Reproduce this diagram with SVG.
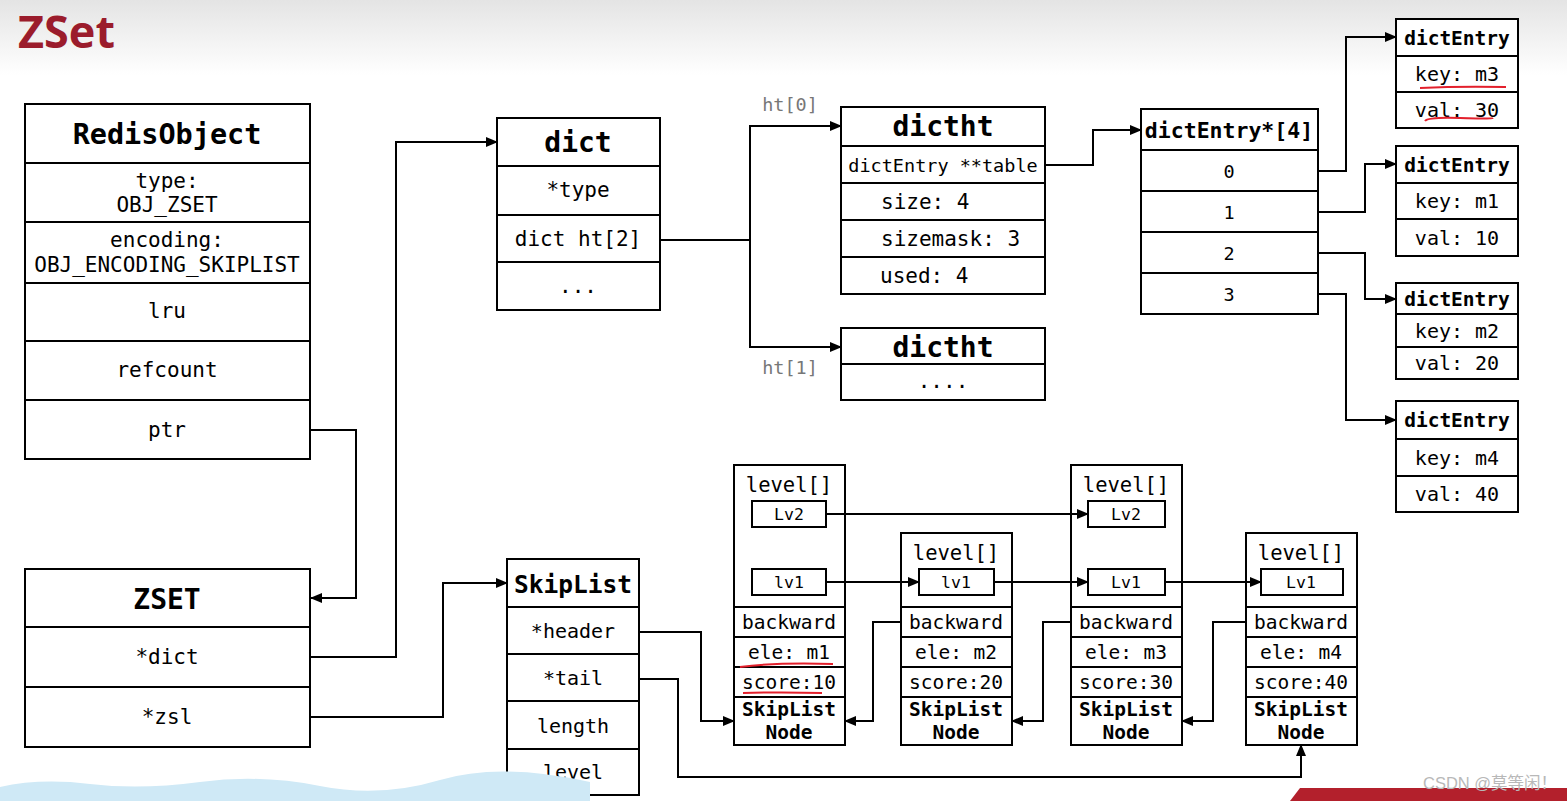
<svg xmlns="http://www.w3.org/2000/svg" width="1567" height="801" viewBox="0 0 1567 801">
<defs>
<linearGradient id="topbg" x1="0" y1="0" x2="0" y2="1">
<stop offset="0" stop-color="#e4e4e4"/>
<stop offset="1" stop-color="#ffffff"/>
</linearGradient>
<marker id="arr" markerUnits="userSpaceOnUse" markerWidth="12" markerHeight="10" refX="11" refY="5" orient="auto">
<path d="M0,0 L12,5 L0,10 z" fill="#000"/>
</marker>
</defs>
<style>
.box{fill:#fff;stroke:#000;stroke-width:2}
.ln{fill:none;stroke:#000;stroke-width:2}
.con{fill:none;stroke:#000;stroke-width:2;marker-end:url(#arr)}
.t{font-family:"DejaVu Sans Mono","Liberation Mono",monospace;fill:#000;text-anchor:middle;dominant-baseline:central}
.b{font-weight:bold}
.red{fill:none;stroke:#e3202c;stroke-width:2}
.gray{fill:#777}
</style>
<rect x="0" y="0" width="1567" height="801" fill="#fff"/>
<rect x="0" y="0" width="1567" height="75" fill="url(#topbg)"/>
<text x="18" y="48" font-family="'Open Sans','Liberation Sans',sans-serif" font-weight="bold" font-size="45" fill="#9b1c2c">ZSet</text>

<g id="redisobject">
<rect class="box" x="25" y="104" width="285" height="355"/>
<path class="ln" d="M25,163 H310 M25,222 H310 M25,283 H310 M25,341 H310 M25,400 H310"/>
<text class="t b" x="167" y="134" font-size="28.5">RedisObject</text>
<text class="t" x="167" y="181" font-size="21">type:</text>
<text class="t" x="167" y="205" font-size="21">OBJ_ZSET</text>
<text class="t" x="167" y="240" font-size="21">encoding:</text>
<text class="t" x="167" y="265" font-size="21">OBJ_ENCODING_SKIPLIST</text>
<text class="t" x="167" y="311" font-size="21">lru</text>
<text class="t" x="167" y="370" font-size="21">refcount</text>
<text class="t" x="167" y="430" font-size="21">ptr</text>
</g>

<g id="zset">
<rect class="box" x="25" y="569" width="285" height="178"/>
<path class="ln" d="M25,627 H310 M25,687 H310"/>
<text class="t b" x="167" y="599" font-size="28">ZSET</text>
<text class="t" x="167" y="657" font-size="21">*dict</text>
<text class="t" x="167" y="717" font-size="21">*zsl</text>
</g>

<g id="dict">
<rect class="box" x="497" y="118" width="163" height="192"/>
<path class="ln" d="M497,166 H660 M497,215 H660 M497,262 H660"/>
<text class="t b" x="578" y="142" font-size="28">dict</text>
<text class="t" x="578" y="190" font-size="21">*type</text>
<text class="t" x="578" y="239" font-size="21">dict ht[2]</text>
<text class="t" x="578" y="286" font-size="21">...</text>
</g>

<g id="dictht0">
<rect class="box" x="841" y="107" width="204" height="187"/>
<path class="ln" d="M841,146 H1045 M841,183 H1045 M841,220 H1045 M841,257 H1045"/>
<text class="t b" x="943" y="126" font-size="28">dictht</text>
<text class="t" x="943" y="165" font-size="18.5">dictEntry **table</text>
<text class="t" x="881" y="202" font-size="21" style="text-anchor:start">size: 4</text>
<text class="t" x="881" y="239" font-size="21" style="text-anchor:start">sizemask: 3</text>
<text class="t" x="880" y="276" font-size="21" style="text-anchor:start">used: 4</text>
</g>

<g id="dictht1">
<rect class="box" x="841" y="328" width="204" height="72"/>
<path class="ln" d="M841,364 H1045"/>
<text class="t b" x="943" y="347" font-size="28">dictht</text>
<text class="t" x="943" y="381" font-size="21">....</text>
</g>

<text class="t gray" x="790" y="104" font-size="18.5">ht[0]</text>
<text class="t gray" x="790" y="367" font-size="18.5">ht[1]</text>

<g id="dictentry-array">
<rect class="box" x="1141" y="109" width="177" height="205"/>
<path class="ln" d="M1141,150 H1318 M1141,191 H1318 M1141,232 H1318 M1141,273 H1318"/>
<text class="t b" x="1229" y="130" font-size="21.5">dictEntry*[4]</text>
<text class="t" x="1229" y="171" font-size="18.5">0</text>
<text class="t" x="1229" y="212" font-size="18.5">1</text>
<text class="t" x="1229" y="253" font-size="18.5">2</text>
<text class="t" x="1229" y="294" font-size="18.5">3</text>
</g>

<g id="entry-m3">
<rect class="box" x="1396" y="19" width="122" height="109"/>
<path class="ln" d="M1396,56 H1518 M1396,92 H1518"/>
<text class="t b" x="1457" y="38" font-size="19.5">dictEntry</text>
<text class="t" x="1457" y="74" font-size="20">key: m3</text>
<text class="t" x="1457" y="110" font-size="20">val: 30</text>
</g>
<g id="entry-m1">
<rect class="box" x="1396" y="146" width="122" height="110"/>
<path class="ln" d="M1396,183 H1518 M1396,219 H1518"/>
<text class="t b" x="1457" y="165" font-size="19.5">dictEntry</text>
<text class="t" x="1457" y="201" font-size="20">key: m1</text>
<text class="t" x="1457" y="238" font-size="20">val: 10</text>
</g>
<g id="entry-m2">
<rect class="box" x="1396" y="283" width="122" height="96"/>
<path class="ln" d="M1396,314 H1518 M1396,347 H1518"/>
<text class="t b" x="1457" y="299" font-size="19.5">dictEntry</text>
<text class="t" x="1457" y="331" font-size="20">key: m2</text>
<text class="t" x="1457" y="363" font-size="20">val: 20</text>
</g>
<g id="entry-m4">
<rect class="box" x="1396" y="401" width="122" height="111"/>
<path class="ln" d="M1396,439 H1518 M1396,476 H1518"/>
<text class="t b" x="1457" y="420" font-size="19.5">dictEntry</text>
<text class="t" x="1457" y="458" font-size="20">key: m4</text>
<text class="t" x="1457" y="494" font-size="20">val: 40</text>
</g>

<g id="skiplist">
<rect class="box" x="507" y="559" width="132" height="236"/>
<path class="ln" d="M507,607 H639 M507,654 H639 M507,701 H639 M507,749 H639"/>
<text class="t b" x="573" y="584" font-size="24.5">SkipList</text>
<text class="t" x="573" y="631" font-size="20">*header</text>
<text class="t" x="573" y="678" font-size="20">*tail</text>
<text class="t" x="573" y="726" font-size="20">length</text>
<text class="t" x="573" y="772" font-size="20">level</text>
</g>

<g id="node1">
<rect class="box" x="734" y="465" width="111" height="280"/>
<path class="ln" d="M734,607 H845 M734,637 H845 M734,667 H845 M734,697 H845"/>
<text class="t" x="789" y="485" font-size="20.5">level[]</text>
<rect class="box" x="752" y="501" width="74" height="26"/>
<text class="t" x="789" y="514" font-size="16.5">Lv2</text>
<rect class="box" x="752" y="569" width="74" height="26"/>
<text class="t" x="789" y="582" font-size="16.5">lv1</text>
<text class="t" x="789" y="622" font-size="19.5">backward</text>
<text class="t" x="789" y="652" font-size="19.5">ele: m1</text>
<text class="t" x="789" y="682" font-size="19.5">score:10</text>
<text class="t b" x="789" y="709" font-size="19.5">SkipList</text>
<text class="t b" x="789" y="732" font-size="19.5">Node</text>
</g>

<g id="node2">
<rect class="box" x="901" y="533" width="111" height="212"/>
<path class="ln" d="M901,607 H1012 M901,637 H1012 M901,667 H1012 M901,697 H1012"/>
<text class="t" x="956" y="553" font-size="20.5">level[]</text>
<rect class="box" x="919" y="569" width="75" height="26"/>
<text class="t" x="956" y="582" font-size="16.5">lv1</text>
<text class="t" x="956" y="622" font-size="19.5">backward</text>
<text class="t" x="956" y="652" font-size="19.5">ele: m2</text>
<text class="t" x="956" y="682" font-size="19.5">score:20</text>
<text class="t b" x="956" y="709" font-size="19.5">SkipList</text>
<text class="t b" x="956" y="732" font-size="19.5">Node</text>
</g>

<g id="node3">
<rect class="box" x="1071" y="465" width="111" height="280"/>
<path class="ln" d="M1071,607 H1182 M1071,637 H1182 M1071,667 H1182 M1071,697 H1182"/>
<text class="t" x="1126" y="485" font-size="20.5">level[]</text>
<rect class="box" x="1088" y="501" width="77" height="26"/>
<text class="t" x="1126" y="514" font-size="16.5">Lv2</text>
<rect class="box" x="1088" y="569" width="77" height="26"/>
<text class="t" x="1126" y="582" font-size="16.5">Lv1</text>
<text class="t" x="1126" y="622" font-size="19.5">backward</text>
<text class="t" x="1126" y="652" font-size="19.5">ele: m3</text>
<text class="t" x="1126" y="682" font-size="19.5">score:30</text>
<text class="t b" x="1126" y="709" font-size="19.5">SkipList</text>
<text class="t b" x="1126" y="732" font-size="19.5">Node</text>
</g>

<g id="node4">
<rect class="box" x="1246" y="533" width="111" height="212"/>
<path class="ln" d="M1246,607 H1357 M1246,637 H1357 M1246,667 H1357 M1246,697 H1357"/>
<text class="t" x="1301" y="553" font-size="20.5">level[]</text>
<rect class="box" x="1261" y="569" width="82" height="26"/>
<text class="t" x="1301" y="582" font-size="16.5">Lv1</text>
<text class="t" x="1301" y="622" font-size="19.5">backward</text>
<text class="t" x="1301" y="652" font-size="19.5">ele: m4</text>
<text class="t" x="1301" y="682" font-size="19.5">score:40</text>
<text class="t b" x="1301" y="709" font-size="19.5">SkipList</text>
<text class="t b" x="1301" y="732" font-size="19.5">Node</text>
</g>

<g id="connectors">
<path class="con" d="M310,430 H356 V598 H311"/>
<path class="con" d="M310,657 H396 V142 H497"/>
<path class="con" d="M310,717 H443 V583 H507"/>
<path class="con" d="M660,240 H750 V126 H841"/>
<path class="con" d="M750,240 V347 H841"/>
<path class="con" d="M1045,165 H1093 V130 H1141"/>
<path class="con" d="M1318,171 H1346 V37 H1396"/>
<path class="con" d="M1318,212 H1365 V164 H1396"/>
<path class="con" d="M1318,253 H1365 V299 H1396"/>
<path class="con" d="M1318,294 H1346 V420 H1396"/>
<path class="con" d="M639,632 H701 V721 H734"/>
<path class="con" d="M639,679 H678 V777 H1301 V745"/>
<path class="con" d="M826,514 H1088"/>
<path class="con" d="M826,582 H919"/>
<path class="con" d="M994,582 H1088"/>
<path class="con" d="M1165,582 H1261"/>
<path class="con" d="M901,622 H873 V721 H845"/>
<path class="con" d="M1071,622 H1043 V721 H1012"/>
<path class="con" d="M1246,622 H1213 V721 H1182"/>
</g>

<g id="annotations">
<path class="red" d="M1420,88 Q1460,86 1506,87"/>
<path class="red" d="M1425,121 Q1428,117 1460,118 T1493,118"/>
<path class="red" d="M740,667 Q780,662 833,664"/>
<path class="red" d="M743,693 Q780,692 822,693"/>
</g>

<g id="decor">
<path d="M0,787 Q40,778 90,784 T200,782 T320,786 T440,780 T590,782 V801 H0 Z" fill="#cfe9f6"/>
<path d="M1300,788 H1567 V801 H1290 Z" fill="#b3202c"/>
<text x="1423" y="789" font-family="'Liberation Sans','Noto Sans CJK SC',sans-serif" font-size="16.5" fill="#b8b8b8">CSDN @莫等闲！</text>
</g>
</svg>
